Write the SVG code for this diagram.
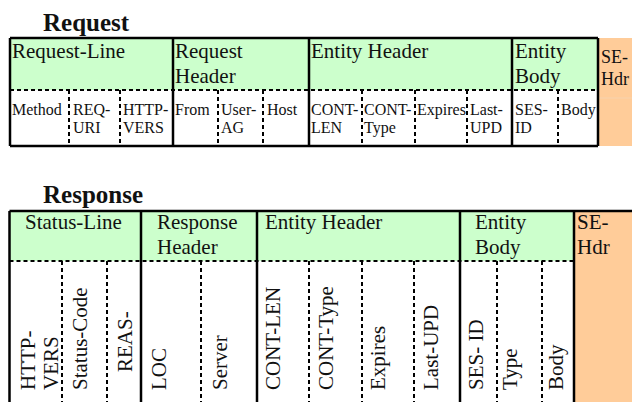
<svg xmlns="http://www.w3.org/2000/svg" width="632" height="402" viewBox="0 0 632 402" font-family="'Liberation Serif', Tinos, 'Times New Roman', serif">
<style>
text{font-family:"Liberation Serif",Tinos,"Times New Roman",serif;fill:#111}
.title{font-size:25px;font-weight:bold}
.hd{font-size:21px}
.hs{font-size:18px}
.sm{font-size:16px}
.rt{font-size:21px}
.green{fill:#CCFFCC}
.orange{fill:#FFCC99}
.solid{stroke:#000;stroke-width:2.5;fill:none}
.dash{stroke:#000;stroke-width:2;stroke-dasharray:4 3;fill:none}
</style>
<rect width="632" height="402" fill="#fff"/>

<!-- REQUEST -->
<text class="title" x="43" y="31">Request</text>
<g id="req-table">
  <rect class="green" x="10" y="38" width="588" height="52"/>
  <rect class="orange" x="598" y="38" width="36" height="108"/>
  <line x1="598" y1="98" x2="632" y2="98" stroke="#f7d2ad" stroke-width="1"/>
</g>
<g id="req-request-line">
  <text class="hd" x="12" y="58">Request-Line</text>
  <text class="sm" x="12" y="115">Method</text>
  <text class="sm" x="73" y="115">REQ-</text><text class="sm" x="73" y="133">URI</text>
  <text class="sm" x="123" y="115">HTTP-</text><text class="sm" x="123" y="133">VERS</text>
</g>
<g id="req-request-header">
  <text class="hd" x="175" y="58">Request</text><text class="hd" x="175" y="83">Header</text>
  <text class="sm" x="175" y="115">From</text>
  <text class="sm" x="221" y="115">User-</text><text class="sm" x="221" y="133">AG</text>
  <text class="sm" x="267" y="115">Host</text>
</g>
<g id="req-entity-header">
  <text class="hd" x="311" y="58">Entity Header</text>
  <text class="sm" x="311" y="115">CONT-</text><text class="sm" x="311" y="133">LEN</text>
  <text class="sm" x="364" y="115">CONT-</text><text class="sm" x="364" y="133">Type</text>
  <text class="sm" x="417" y="115">Expires</text>
  <text class="sm" x="470" y="115">Last-</text><text class="sm" x="470" y="133">UPD</text>
</g>
<g id="req-entity-body">
  <text class="hd" x="515" y="58">Entity</text><text class="hd" x="515" y="83">Body</text>
  <text class="sm" x="515" y="115">SES-</text><text class="sm" x="515" y="133">ID</text>
  <text class="sm" x="561" y="115">Body</text>
</g>
<g id="req-se-hdr">
  <text class="hs" x="601" y="63">SE-</text><text class="hs" x="601" y="85">Hdr</text>
</g>
<g id="req-lines">
  <path class="solid" d="M10,38 H598 M10,146 H598 M10,38 V146 M173,38 V146 M309,38 V146 M512,38 V146 M598,38 V146"/>
  <path class="dash" d="M10,90 H598 M69,90 V146 M120,90 V146 M218,90 V146 M263,90 V146 M362,90 V146 M415,90 V146 M467,90 V146 M558,90 V146"/>
</g>

<!-- RESPONSE -->
<text class="title" x="43" y="203">Response</text>
<g id="resp-table">
  <rect class="green" x="9.5" y="211" width="564.5" height="50"/>
  <rect class="orange" x="574" y="211" width="60" height="195"/>
</g>
<g id="resp-status-line">
  <text class="hd" x="25" y="229">Status-Line</text>
  <text class="rt" transform="translate(35,390) rotate(-90)">HTTP-</text>
  <text class="rt" transform="translate(58,390) rotate(-90)">VERS</text>
  <text class="rt" transform="translate(87,390) rotate(-90)">Status-Code</text>
  <text class="rt" transform="translate(132,372) rotate(-90)">REAS-</text>
</g>
<g id="resp-response-header">
  <text class="hd" x="157" y="229">Response</text><text class="hd" x="157" y="254">Header</text>
  <text class="rt" transform="translate(166,390) rotate(-90)">LOC</text>
  <text class="rt" transform="translate(227,390) rotate(-90)">Server</text>
</g>
<g id="resp-entity-header">
  <text class="hd" x="265" y="229">Entity Header</text>
  <text class="rt" transform="translate(280,390) rotate(-90)">CONT-LEN</text>
  <text class="rt" transform="translate(333,390) rotate(-90)">CONT-Type</text>
  <text class="rt" transform="translate(385,390) rotate(-90)">Expires</text>
  <text class="rt" transform="translate(438,390) rotate(-90)">Last-UPD</text>
</g>
<g id="resp-entity-body">
  <text class="hd" x="475" y="229">Entity</text><text class="hd" x="475" y="254">Body</text>
  <text class="rt" transform="translate(483,390) rotate(-90)">SES- ID</text>
  <text class="rt" transform="translate(517,390) rotate(-90)">Type</text>
  <text class="rt" transform="translate(563,390) rotate(-90)">Body</text>
</g>
<g id="resp-se-hdr">
  <text class="hd" x="577" y="229">SE-</text><text class="hd" x="577" y="254">Hdr</text>
</g>
<g id="resp-lines">
  <path class="solid" d="M9.5,211 H632 M9.5,211 V406 M141,211 V406 M257,211 V406 M460,211 V406 M574,211 V406"/>
  <path class="dash" d="M9.5,261 H574 M62,261 V406 M107,261 V406 M201,261 V406 M309,261 V406 M362,261 V406 M414,261 V406 M497,261 V406 M542,261 V406"/>
</g>
</svg>
